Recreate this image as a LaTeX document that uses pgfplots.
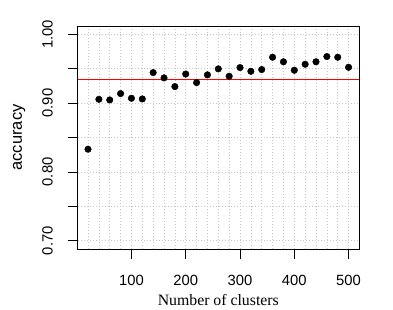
\documentclass[border=0pt]{standalone}
\usepackage{fontspec}
\setmainfont{Liberation Serif}
\setsansfont{Liberation Sans}
\usepackage{pgfplots}
\pgfplotsset{compat=1.18}
\begin{document}
\begin{tikzpicture}
\path[use as bounding box] (-77.6bp,-61bp) rectangle (315.4bp,249bp);
\begin{axis}[
  at={(0,0)}, anchor=south west,
  scale only axis, width=281.4bp, height=223bp,
  xmin=0.8, xmax=519.2, ymin=0.688, ymax=1.012,
  axis line style={black, line width=0.8bp},
  xtick={100,200,300,400,500},
  xticklabels={100,200,300,400,500},
  minor xtick={20,40,...,500},
  ytick={0.70,0.75,0.80,0.85,0.90,0.95,1.00},
  yticklabels={0.70,,0.80,,0.90,,1.00},
  tick align=outside, tick pos=left,
  major tick length=9.5bp, minor tick length=0pt,
  tick style={black, line width=0.8bp},
  xmajorgrids=false, xminorgrids=true, ymajorgrids=true,
  grid style={gray!45, line width=0.6bp, dash pattern=on 0.8bp off 2.2bp},
  minor grid style={gray!45, line width=0.6bp, dash pattern=on 0.8bp off 2.2bp},
  ticklabel style={font=\fontsize{14.8bp}{16bp}\selectfont\sffamily, inner sep=0pt},
  xticklabel style={anchor=north},
  xticklabel shift=16.5bp,
  yticklabel style={rotate=90, anchor=south},
  yticklabel shift=15.1bp,
  xlabel={\fontsize{15.8bp}{17bp}\selectfont\rmfamily Number of clusters},
  xlabel style={at={([yshift=-56bp]axis description cs:0.5,0)}, anchor=base, inner sep=0pt},
  ylabel={\fontsize{16.5bp}{18bp}\selectfont\sffamily accuracy},
  ylabel style={at={([xshift=-55.6bp]axis description cs:0,0.5)}, anchor=base, inner sep=0pt},
]
\addplot[red, line width=1.2bp, no marks, forget plot] table {
x y
0.8 0.9337
519.2 0.9337
};
\addplot[only marks, mark=*, mark size=3.3bp, black] coordinates {
(20,0.833) (40,0.9055) (60,0.9046) (80,0.9138) (100,0.907)
(120,0.906) (140,0.9443) (160,0.9366) (180,0.924) (200,0.9422)
(220,0.9298) (240,0.941) (260,0.9497) (280,0.939) (300,0.9516)
(320,0.9462) (340,0.9487) (360,0.9666) (380,0.960) (400,0.9477)
(420,0.9564) (440,0.960) (460,0.9676) (480,0.9666) (500,0.952)
};
\end{axis}
\end{tikzpicture}
\end{document}
